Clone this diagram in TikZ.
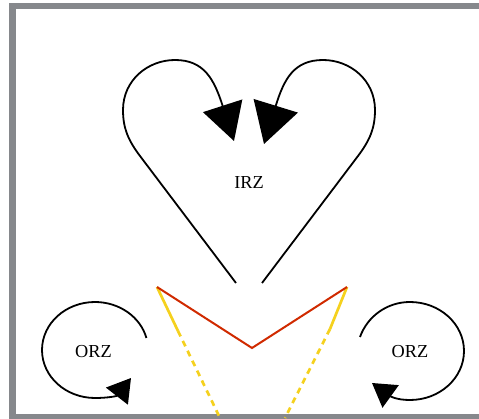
\documentclass[tikz,border=0pt]{standalone}
\usepackage{fontspec}
\setmainfont{Liberation Serif}
\usetikzlibrary{arrows.meta}
\definecolor{framegray}{HTML}{86888C}
\definecolor{vred}{HTML}{D02A00}
\definecolor{vyellow}{HTML}{F5D11E}
\tikzset{
  loopline/.style={draw=black, line width=1.8pt},
  bigtipL/.style={-{Triangle[length=37pt,width=41pt]}},
  bigtipR/.style={-{Triangle[length=40pt,width=46pt]}},
  smalltip/.style={-{Triangle[length=23pt,width=27.5pt]}},
  label/.style={font=\fontsize{18.3}{18.3}\selectfont, inner sep=0pt},
  redline/.style={draw=vred, line width=2pt},
  yelline/.style={draw=vyellow, line width=2.7pt},
  yeldash/.style={draw=vyellow, line width=2.7pt, dash pattern=on 6pt off 5pt}
}
\begin{document}
\begin{tikzpicture}[x=1pt,y=-1pt]
\useasboundingbox (0,0) rectangle (479,419);
\clip (0,0) rectangle (479,419);
\draw[framegray, line width=6.6pt] (12.3,6) rectangle (520,417);

% IRZ and its loops
\node[label] (irz) at (249,183) {IRZ};
\coordinate (la) at (236,283);
\coordinate (lb) at (140,156);
\coordinate (lt) at (234,141);
\coordinate (ra) at (262,283);
\coordinate (rb) at (358,156);
\coordinate (rt) at (264,144);
\draw[loopline, bigtipL] (la) -- (lb) .. controls (128,140) and (123,128) .. (123,110)
  .. controls (123,80) and (148,60) .. (175,60)
  .. controls (204,60) and (214,79) .. (lt);
\draw[loopline, bigtipR] (ra) -- (rb) .. controls (370,140) and (375,128) .. (375,110)
  .. controls (375,80) and (350,60) .. (323,60)
  .. controls (294,60) and (284,79) .. (rt);

% V shape
\coordinate (vl) at (157,287);
\coordinate (vm) at (252,348);
\coordinate (vr) at (347,287);
\coordinate (yl1) at (178,331);
\coordinate (yl2) at (220,418);
\coordinate (yr1) at (330,329);
\coordinate (yr2) at (285,418);
\draw[yelline] (vl) -- (yl1);
\draw[yeldash] (yl1) -- (yl2);
\draw[yelline] (vr) -- (yr1);
\draw[yeldash] (yr1) -- (yr2);
\draw[redline, line join=miter] (vl) -- (vm) -- (vr);

% left ORZ
\node[label] (orzl) at (93.5,352) {ORZ};
\coordinate (ols) at (146.4,338);
\coordinate (olt) at (131,378);
\draw[loopline, smalltip] (ols) .. controls (140.5,317) and (119.3,302) .. (95,302)
  .. controls (65.7,302) and (42,323.5) .. (42,350)
  .. controls (42,376.5) and (65.7,398) .. (95,398)
  .. controls (108,398) and (117,396) .. (olt);

% right ORZ
\node[label] (orzr) at (410,352) {ORZ};
\coordinate (ors) at (360,337);
\coordinate (ort) at (372,383);
\draw[loopline, smalltip] (ors) .. controls (367.2,316.8) and (386.6,302) .. (410,302)
  .. controls (439.8,302) and (464,324) .. (464,351)
  .. controls (464,378) and (439.8,400) .. (410,400)
  .. controls (396,400) and (390,396) .. (ort);
\end{tikzpicture}
\end{document}
